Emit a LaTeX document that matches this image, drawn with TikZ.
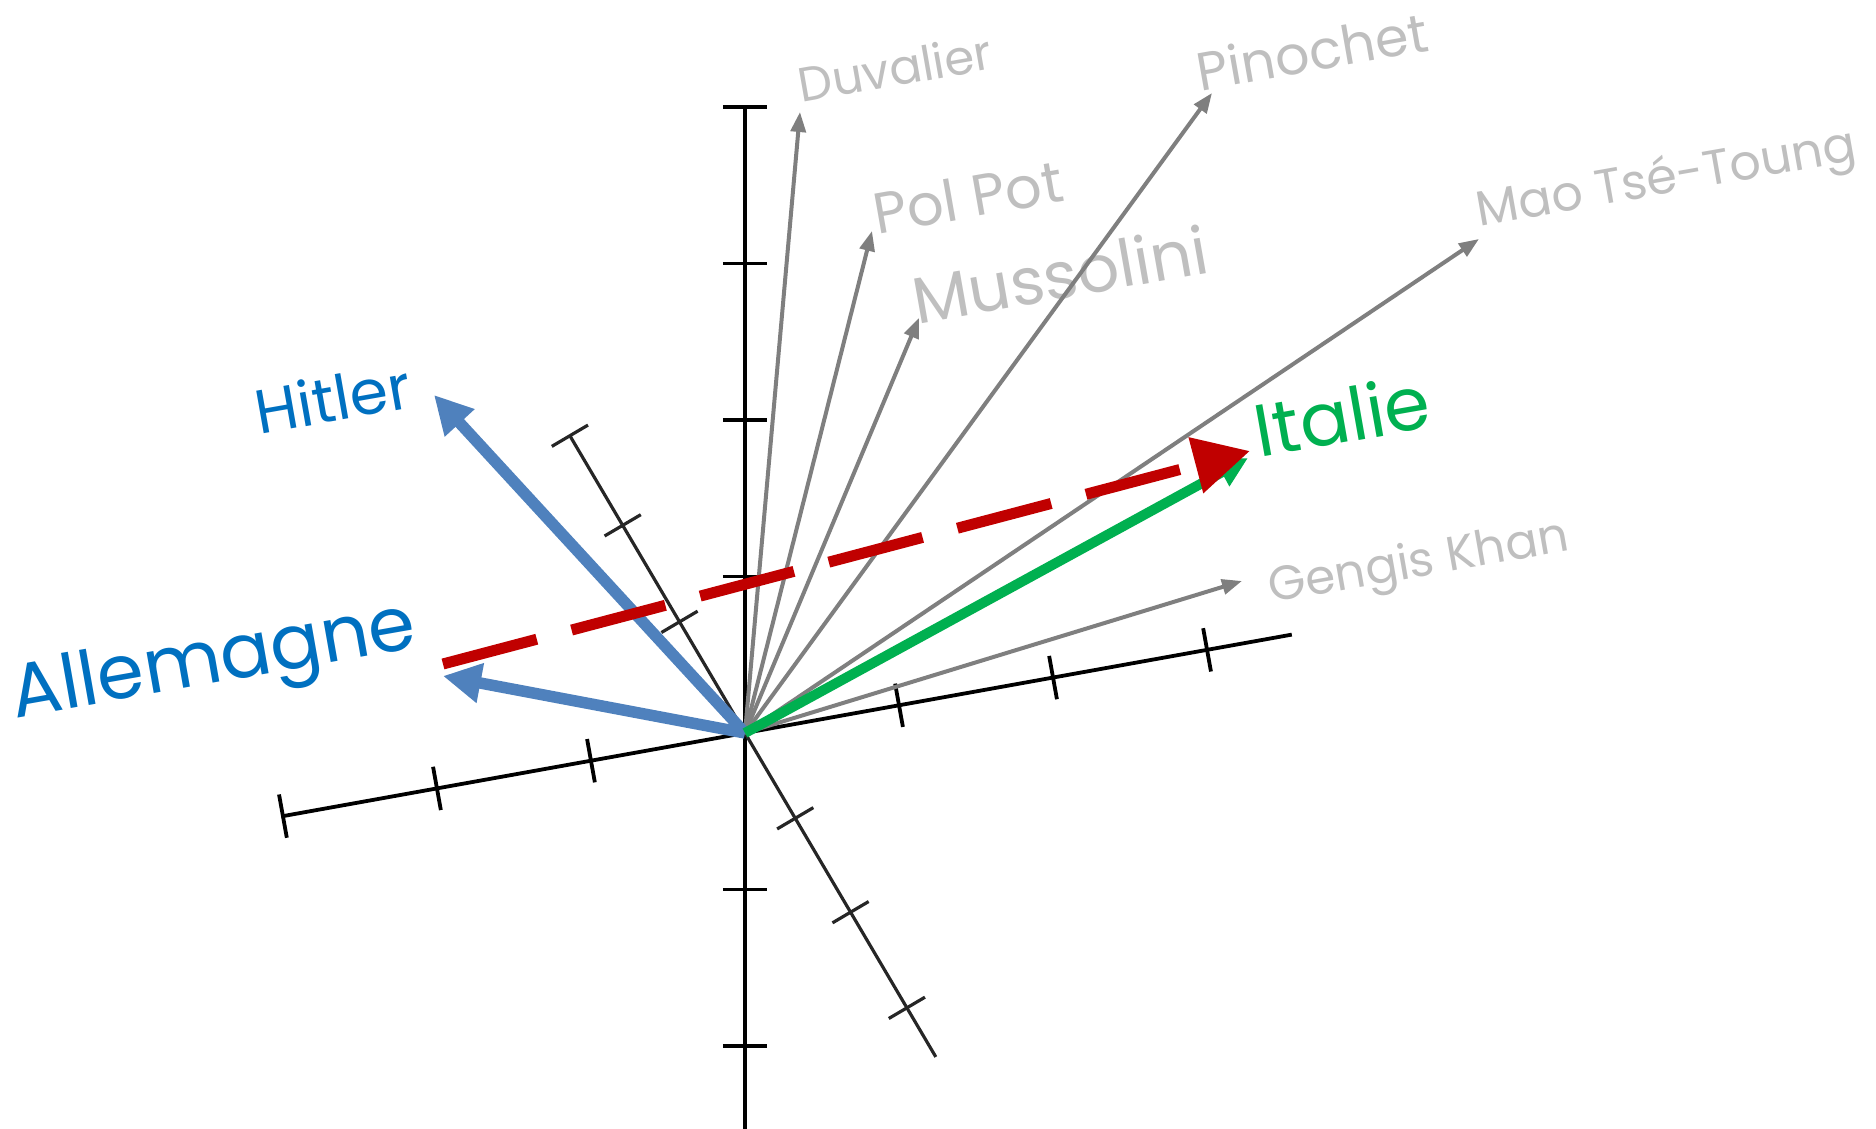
\documentclass[tikz,border=0pt]{standalone}
\usepackage{fontspec}
\setmainfont{Poppins}
\usetikzlibrary{arrows.meta}

\definecolor{labgray}{HTML}{BFBFBF}
\definecolor{arrgray}{HTML}{7F7F7F}
\definecolor{deblue}{HTML}{0070C0}
\definecolor{arrblue}{HTML}{4F81BD}
\definecolor{itgreen}{HTML}{00B050}
\definecolor{diffred}{HTML}{C00000}

\tikzset{
  axis/.style={line width=0.038cm, black},
  obaxis/.style={line width=0.032cm, black!85},
  dictator/.style={arrgray, line width=0.04cm, -{Triangle[length=0.2cm,width=0.15cm]}},
  country/.style={arrblue, line width=0.115cm, -{Triangle[length=0.38cm,width=0.38cm]}},
  wordlab/.style={rotate=10, inner sep=0pt},
}

\begin{document}
\begin{tikzpicture}
\useasboundingbox (-7.45,-3.96) rectangle (11.31,7.33);
\coordinate (O) at (0,0);
% ---- axes ----
\draw[axis] (0,-3.96) -- (0,6.26);
\foreach \y in {-2,-1,1,2,3,4}
  \draw[axis] (-0.22,1.565*\y) -- (0.22,1.565*\y);
\begin{scope}[rotate=10.2]
  \draw[axis] (-3*1.565,0) -- (3.55*1.565,0);
  \foreach \x in {-3,-2,-1,1,2,3}
    \draw[axis] (1.565*\x,-0.22) -- (1.565*\x,0.22);
\end{scope}
\begin{scope}[rotate=-59.5]
  \draw[obaxis] (-3.45,0) -- (3.76,0);
  \foreach \t in {-3.45,-2.41,-1.29,0.99,2.08,3.19}
    \draw[obaxis] (\t,-0.21) -- (\t,0.21);
\end{scope}
% ---- dictators ----
\foreach \nm/\tx/\ty/\lx/\ly/\fs/\lab in {
    duv/0.55/6.21/1.50/6.65/13.7/Duvalier,
    pol/1.27/5.02/2.23/5.36/16.4/Pol Pot,
    mus/1.74/4.15/3.15/4.59/18.6/Mussolini,
    pin/4.67/6.40/5.67/6.82/15.3/Pinochet,
    mao/7.34/4.94/9.22/5.52/14/Mao Tsé-Toung,
    gen/4.97/1.52/6.74/1.68/13.7/Gengis Khan} {
  \coordinate (\nm) at (\tx,\ty);
  \draw[dictator] (O) -- (\nm);
  \node[wordlab, labgray, font=\fontsize{\fs}{\fs}\selectfont] (l\nm) at (\lx,\ly) {\lab};
}
% ---- countries ----
\coordinate (hit) at (-3.11,3.38);
\coordinate (all) at (-3.02,0.57);
\draw[country] (O) -- (hit);
\draw[country] (O) -- (all);
\node[wordlab, deblue, font=\fontsize{17.6}{17.6}\selectfont] (lhit) at (-4.12,3.35) {Hitler};
\node[wordlab, deblue, font=\fontsize{21.5}{21.5}\selectfont] (lall) at (-5.31,0.68) {Allemagne};
\coordinate (ita) at (5.03,2.75);
\draw[itgreen, line width=0.1cm, -{Triangle[length=0.3cm,width=0.3cm]}] (O) -- (ita);
\node[wordlab, itgreen, font=\fontsize{21}{21}\selectfont] (lita) at (5.97,3.18) {Italie};
% ---- Allemagne -> Italie ----
\coordinate (r0) at (-3.02,0.69);
\coordinate (r1) at (5.05,2.82);
\draw[diffred, line width=0.11cm, dash pattern=on 0.97cm off 0.36cm,
      -{Triangle[length=0.56cm,width=0.55cm]}] (r0) -- (r1);
\end{tikzpicture}
\end{document}
